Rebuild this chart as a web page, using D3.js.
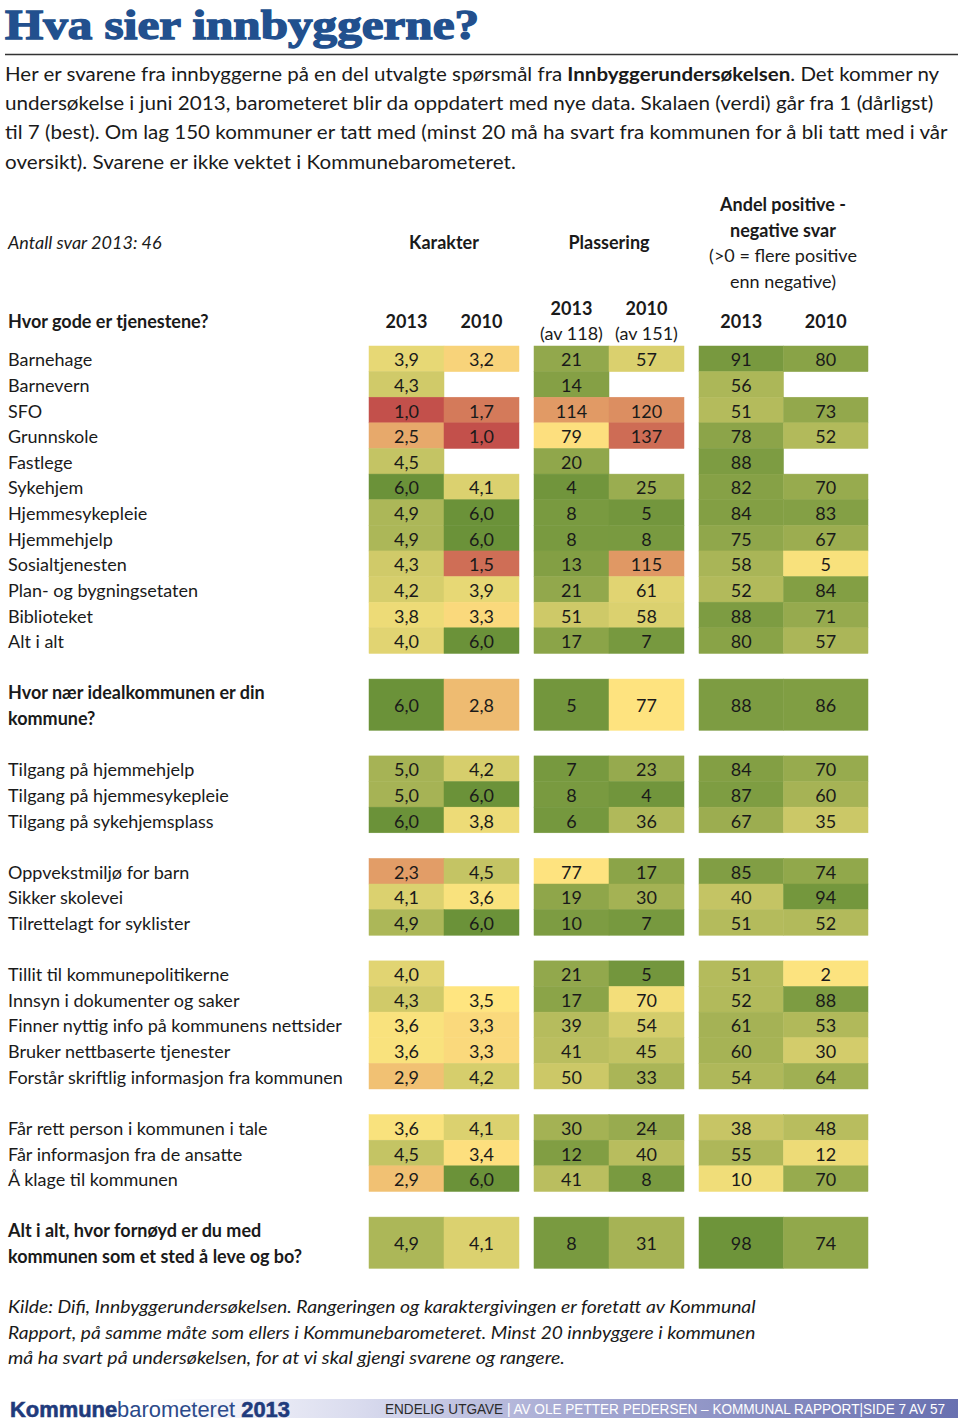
<!DOCTYPE html>
<html><head><meta charset="utf-8">
<script src="https://cdn.jsdelivr.net/npm/d3@7"></script>
<style>
html,body{margin:0;padding:0;background:#fff;}
svg{display:block;}
text{font-family:Lato,"Open Sans",sans-serif;fill:#1a1a1a;}
</style></head>
<body>
<script>
// ---------- DATA ----------
const rowLabels = [
  "Barnehage","Barnevern","SFO","Grunnskole","Fastlege","Sykehjem","Hjemmesykepleie","Hjemmehjelp",
  "Sosialtjenesten","Plan- og bygningsetaten","Biblioteket","Alt i alt",
  "Hvor nær idealkommunen er din|kommune?",
  "Tilgang på hjemmehjelp","Tilgang på hjemmesykepleie","Tilgang på sykehjemsplass",
  "Oppvekstmiljø for barn","Sikker skolevei","Tilrettelagt for syklister",
  "Tillit til kommunepolitikerne","Innsyn i dokumenter og saker","Finner nyttig info på kommunens nettsider",
  "Bruker nettbaserte tjenester","Forstår skriftlig informasjon fra kommunen",
  "Får rett person i kommunen i tale","Får informasjon fra de ansatte","Å klage til kommunen",
  "Alt i alt, hvor fornøyd er du med|kommunen som et sted å leve og bo?"
];
// group index of each row (a blank row separates groups); span = height in rows
const rowGroup = [0,0,0,0,0,0,0,0,0,0,0,0, 1, 2,2,2, 3,3,3, 4,4,4,4,4, 5,5,5, 6];
const rowSpan  = [1,1,1,1,1,1,1,1,1,1,1,1, 2, 1,1,1, 1,1,1, 1,1,1,1,1, 1,1,1, 2];
const karakter2013 = [3.9,4.3,1.0,2.5,4.5,6.0,4.9,4.9,4.3,4.2,3.8,4.0, 6.0, 5.0,5.0,6.0, 2.3,4.1,4.9, 4.0,4.3,3.6,3.6,2.9, 3.6,4.5,2.9, 4.9];
const karakter2010 = [3.2,null,1.7,1.0,null,4.1,6.0,6.0,1.5,3.9,3.3,6.0, 2.8, 4.2,6.0,3.8, 4.5,3.6,6.0, null,3.5,3.3,3.3,4.2, 4.1,3.4,6.0, 4.1];
const plass2013 = [21,14,114,79,20,4,8,8,13,21,51,17, 5, 7,8,6, 77,19,10, 21,17,39,41,50, 30,12,41, 8];
const plass2010 = [57,null,120,137,null,25,5,8,115,61,58,7, 77, 23,4,36, 17,30,7, 5,70,54,45,33, 24,40,8, 31];
const andel2013 = [91,56,51,78,88,82,84,75,58,52,88,80, 88, 84,87,67, 85,40,51, 51,52,61,60,54, 38,55,10, 98];
const andel2010 = [80,null,73,52,null,70,83,67,5,84,71,57, 86, 70,60,35, 74,94,52, 2,88,53,30,64, 48,12,70, 74];

const introLines = [
  [["Her er svarene fra innbyggerne på en del utvalgte spørsmål fra ",400],["Innbyggerundersøkelsen",700],[". Det kommer ny",400]],
  [["undersøkelse i juni 2013, barometeret blir da oppdatert med nye data. Skalaen (verdi) går fra 1 (dårligst)",400]],
  [["til 7 (best). Om lag 150 kommuner er tatt med (minst 20 må ha svart fra kommunen for å bli tatt med i vår",400]],
  [["oversikt). Svarene er ikke vektet i Kommunebarometeret.",400]]
];
const footLines = [
  "Kilde: Difi, Innbyggerundersøkelsen. Rangeringen og karaktergivingen er foretatt av Kommunal",
  "Rapport, på samme måte som ellers i Kommunebarometeret. Minst 20 innbyggere i kommunen",
  "må ha svart på undersøkelsen, for at vi skal gjengi svarene og rangere."
];

// ---------- LAYOUT ----------
const W = 960, H = 1421;
const svg = d3.select("body").append("svg").attr("width", W).attr("height", H);

function fitTo(sel, width) {
  sel.attr("textLength", width).attr("lengthAdjust", "spacingAndGlyphs");
}
function shrink(sel, maxW) {
  const w = sel.node().getComputedTextLength();
  if (w > maxW) sel.attr("textLength", maxW).attr("lengthAdjust", "spacingAndGlyphs");
}

// Title
const title = svg.append("text").attr("x", 5).attr("y", 38.5)
  .style("font-family", "'Liberation Serif','DejaVu Serif',serif")
  .style("font-weight", 900).style("font-size", "42px").style("fill", "#22508e")
  .style("stroke", "#22508e").style("stroke-width", 1.4)
  .text("Hva sier innbyggerne?");
fitTo(title, 474);
svg.append("line").attr("x1", 5).attr("x2", 958).attr("y1", 54.5).attr("y2", 54.5)
  .attr("stroke", "#333").attr("stroke-width", 1.5);

// Intro paragraph
const introWidths = [935, 929, 943, 511];
const introY = [74, 103, 132, 162];
introLines.forEach((parts, i) => {
  const t = svg.append("text").attr("x", 5).attr("y", introY[i]).attr("dy", "0.38em")
    .style("font-size", "19px");
  parts.forEach(p => t.append("tspan").style("font-weight", p[1]).text(p[0]));
  const w = t.node().getComputedTextLength();
  const s = introWidths[i] / w;
  t.attr("transform", `translate(5,0) scale(${s},1) translate(-5,0)`);
});

// Column scales
const kX = d3.scaleBand().domain(["2013","2010"]).range([369, 519]);
const pX = d3.scaleBand().domain(["2013","2010"]).range([534, 684]);
const aX = d3.scaleBand().domain(["2013","2010"]).range([699, 868]);

const red = "#c3504b", yellow = "#ffe580", green = "#6b9239";
const kColor = d3.scaleLinear().domain([1, 3.5, 6]).range([red, yellow, green]).clamp(true);
const pColor = d3.scaleLinear().domain([1, 76, 151]).range([green, yellow, red]).clamp(true);
const aColor = d3.scaleLinear().domain([-100, 0, 100]).range([red, yellow, green]).clamp(true);

// Row units
const rowStart = [];
let u = 0;
rowLabels.forEach((d, i) => {
  if (i > 0 && rowGroup[i] !== rowGroup[i-1]) u += 1;
  rowStart.push(u);
  u += rowSpan[i];
});
const totalUnits = u;
const yU = d3.scaleLinear().domain([0, totalUnits]).range([346, 346 + totalUnits * 25.62]);

const DY = "0.42em";

// Header
const hdr = svg.append("g").style("font-size", "18px");
hdr.append("text").attr("x", 8).attr("y", 241).attr("dy", DY).style("font-style", "italic").text("Antall svar 2013: 46");
hdr.append("text").attr("x", 444).attr("y", 241).attr("dy", DY).attr("text-anchor", "middle").style("font-weight", 700).text("Karakter");
hdr.append("text").attr("x", 609).attr("y", 241).attr("dy", DY).attr("text-anchor", "middle").style("font-weight", 700).text("Plassering");
[["Andel positive -",700,203],["negative svar",700,229],["(>0 = flere positive",400,254],["enn negative)",400,280]].forEach(d => {
  hdr.append("text").attr("x", 783).attr("y", d[2]).attr("dy", DY).attr("text-anchor", "middle").style("font-weight", d[1]).text(d[0]);
});
hdr.append("text").attr("x", 8).attr("y", 320).attr("dy", DY).style("font-weight", 700).text("Hvor gode er tjenestene?");
["2013","2010"].forEach(k => {
  hdr.append("text").attr("x", kX(k) + kX.bandwidth()/2).attr("y", 320).attr("dy", DY).attr("text-anchor", "middle").style("font-weight", 700).text(k);
  hdr.append("text").attr("x", aX(k) + aX.bandwidth()/2).attr("y", 320).attr("dy", DY).attr("text-anchor", "middle").style("font-weight", 700).text(k);
  hdr.append("text").attr("x", pX(k) + pX.bandwidth()/2).attr("y", 307).attr("dy", DY).attr("text-anchor", "middle").style("font-weight", 700).text(k);
});
hdr.append("text").attr("x", pX("2013") + pX.bandwidth()/2).attr("y", 332).attr("dy", DY).attr("text-anchor", "middle").text("(av 118)");
hdr.append("text").attr("x", pX("2010") + pX.bandwidth()/2).attr("y", 332).attr("dy", DY).attr("text-anchor", "middle").text("(av 151)");

// Cells
const cols = [
  {vals: karakter2013, x: kX, key: "2013", color: kColor, fmt: v => v.toFixed(1).replace(".", ",")},
  {vals: karakter2010, x: kX, key: "2010", color: kColor, fmt: v => v.toFixed(1).replace(".", ",")},
  {vals: plass2013, x: pX, key: "2013", color: pColor, fmt: v => String(v)},
  {vals: plass2010, x: pX, key: "2010", color: pColor, fmt: v => String(v)},
  {vals: andel2013, x: aX, key: "2013", color: aColor, fmt: v => String(v)},
  {vals: andel2010, x: aX, key: "2010", color: aColor, fmt: v => String(v)}
];
const cellG = svg.append("g");
cols.forEach(c => {
  const data = c.vals.map((v, i) => ({v, i})).filter(d => d.v !== null);
  cellG.selectAll(null).data(data).enter().append("rect")
    .attr("x", c.x(c.key)).attr("width", c.x.bandwidth())
    .attr("y", d => yU(rowStart[d.i])).attr("height", d => yU(rowStart[d.i] + rowSpan[d.i]) - yU(rowStart[d.i]))
    .attr("fill", d => c.color(d.v)).attr("stroke", d => c.color(d.v)).attr("stroke-width", 0.5);
  cellG.selectAll(null).data(data).enter().append("text")
    .attr("x", c.x(c.key) + c.x.bandwidth()/2)
    .attr("y", d => yU(rowStart[d.i] + rowSpan[d.i]/2)).attr("dy", DY)
    .attr("text-anchor", "middle").style("font-size", "18px")
    .text(d => c.fmt(d.v));
});

// Row labels
rowLabels.forEach((lab, i) => {
  const parts = lab.split("|");
  const cy = yU(rowStart[i] + rowSpan[i]/2);
  if (parts.length === 1) {
    const t = svg.append("text").attr("x", 8).attr("y", cy).attr("dy", DY).style("font-size", "18px").text(lab);
    shrink(t, 347);
  } else {
    parts.forEach((p, j) => {
      const t = svg.append("text").attr("x", 8).attr("y", cy + (j === 0 ? -13 : 13)).attr("dy", DY)
        .style("font-size", "18px").style("font-weight", 700).text(p);
      shrink(t, 305);
    });
  }
});

// Footnote
const footY = [1305, 1331, 1356];
const footW = [748, 748, 557];
footLines.forEach((l, i) => {
  const t = svg.append("text").attr("x", 8).attr("y", footY[i]).attr("dy", DY)
    .style("font-size", "18px").style("font-style", "italic").text(l);
  const w = t.node().getComputedTextLength();
  const s = footW[i] / w;
  t.attr("transform", `translate(8,0) scale(${s},1) translate(-8,0)`);
});

// Bottom banner
const defs = svg.append("defs");
const grad = defs.append("linearGradient").attr("id", "bannerGrad").attr("x1", "0").attr("x2", "1").attr("y1", "0").attr("y2", "0");
grad.append("stop").attr("offset", "0").attr("stop-color", "#ffffff");
grad.append("stop").attr("offset", "0.25").attr("stop-color", "#d9dbee");
grad.append("stop").attr("offset", "0.5").attr("stop-color", "#a9acd4");
grad.append("stop").attr("offset", "1").attr("stop-color", "#6870b0");
svg.append("rect").attr("x", 160).attr("y", 1399).attr("width", 798).attr("height", 19).attr("fill", "url(#bannerGrad)");

const logo = svg.append("text").attr("x", 10).attr("y", 1417)
  .style("font-family", "'Liberation Sans','DejaVu Sans',sans-serif").style("font-size", "22px").style("fill", "#1f3b7c");
logo.append("tspan").style("font-weight", 900).style("fill", "#1f3b7c").style("stroke", "#1f3b7c").style("stroke-width", 0.6).text("Kommune");
logo.append("tspan").style("font-weight", 300).style("fill", "#2c4a8a").text("barometeret ");
logo.append("tspan").style("font-weight", 900).style("fill", "#1f3b7c").style("stroke", "#1f3b7c").style("stroke-width", 0.6).text("2013");
fitTo(logo, 280);

const ft = svg.append("text").attr("x", 385).attr("y", 1414)
  .style("font-family", "'Liberation Sans Narrow','Liberation Sans',sans-serif").style("font-size", "14px");
ft.append("tspan").style("fill", "#2a2a2a").text("ENDELIG UTGAVE ");
ft.append("tspan").style("fill", "#ffffff").text("| AV OLE PETTER PEDERSEN – KOMMUNAL RAPPORT|SIDE 7 AV 57");
fitTo(ft, 560);
</script>
</body></html>
